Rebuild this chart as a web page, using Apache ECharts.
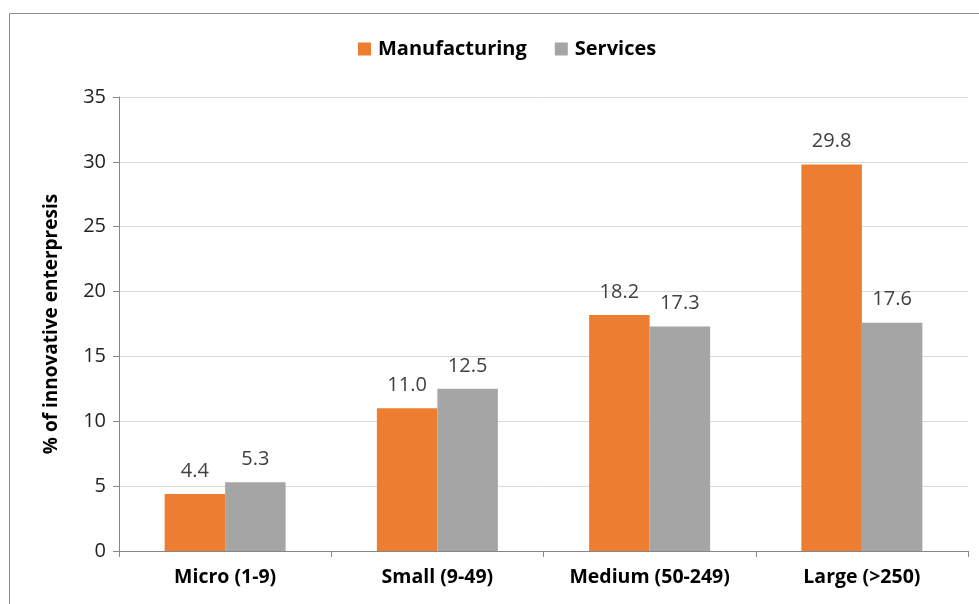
<!DOCTYPE html>
<html><head><meta charset="utf-8">
<script src="https://cdn.jsdelivr.net/npm/echarts@6/dist/echarts.min.js"></script>
<style>html,body{margin:0;padding:0;background:#fff}#c{width:979px;height:604px}</style>
</head><body><div id="c"></div>
<script>
const categories = ['Micro (1-9)', 'Small (9-49)', 'Medium (50-249)', 'Large (>250)'];
const manufacturing = [4.4, 11.0, 18.2, 29.8];
const services = [5.3, 12.5, 17.3, 17.6];
const yTicks = [0, 5, 10, 15, 20, 25, 30, 35];
const FONT = 'Open Sans';
const chart = echarts.init(document.getElementById('c'));
chart.setOption({
  animation: false,
  backgroundColor: '#fff',
  graphic: [{type:'rect', shape:{x:9.5, y:13.5, width:1100, height:1100}, style:{fill:'none', stroke:'#8c8c8c', lineWidth:1}, silent:true, z:-1}],
  legend: {
    top: 34, left: 353, itemWidth: 13, itemHeight: 13, itemGap: 28,
    icon: 'rect',
    textStyle: {fontFamily: FONT, fontWeight: 'bold', fontSize: 20, color: '#000', padding: [0, 0, 0, 2]},
    data: ['Manufacturing', 'Services']
  },
  grid: {left: 119, right: 11, top: 97, bottom: 53, containLabel: false},
  xAxis: {
    type: 'category', data: categories,
    axisLine: {lineStyle: {color: '#868686'}},
    axisTick: {show: true, length: 6, lineStyle: {color: '#868686'}},
    axisLabel: {fontFamily: FONT, fontWeight: 'bold', fontSize: 19.5, color: '#000', margin: 16}
  },
  yAxis: {
    type: 'value', min: yTicks[0], max: yTicks[yTicks.length-1], interval: 5,
    name: '% of innovative enterpresis', nameLocation: 'middle', nameGap: 58,
    nameTextStyle: {fontFamily: FONT, fontWeight: 'bold', fontSize: 19, color: '#000'},
    axisLine: {show: true, lineStyle: {color: '#868686'}},
    axisTick: {show: true, length: 6, lineStyle: {color: '#868686'}},
    axisLabel: {fontFamily: FONT, fontSize: 20, color: '#222', margin: 13},
    splitLine: {lineStyle: {color: '#d9d9d9'}}
  },
  series: [
    {name: 'Manufacturing', type: 'bar', data: manufacturing, barGap: '0%', barCategoryGap: '43%',
     itemStyle: {color: '#ED7D31'},
     label: {show: true, position: 'top', distance: 13, formatter: p => p.value.toFixed(1), fontFamily: FONT, fontSize: 20, color: '#404040'}},
    {name: 'Services', type: 'bar', data: services, barGap: '0%', barCategoryGap: '43%',
     itemStyle: {color: '#A5A5A5'},
     label: {show: true, position: 'top', distance: 13, formatter: p => p.value.toFixed(1), fontFamily: FONT, fontSize: 20, color: '#404040'}}
  ]
});
</script></body></html>
